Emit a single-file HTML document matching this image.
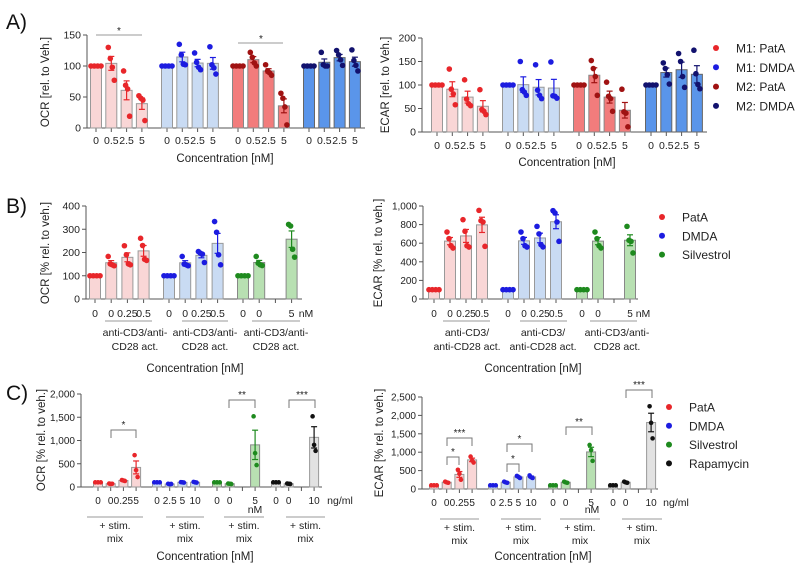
<!DOCTYPE html>
<html><head><meta charset="utf-8">
<style>
html,body{margin:0;padding:0;background:#fff;}
svg{display:block;font-family:"Liberation Sans",Arial,sans-serif;}
</style></head>
<body>
<svg id="fig" width="795" height="567" viewBox="0 0 795 567" xmlns="http://www.w3.org/2000/svg">
<text x="6" y="29" font-size="21" fill="#111">A)</text>
<text x="6" y="213" font-size="21" fill="#111">B)</text>
<text x="6" y="400" font-size="21" fill="#111">C)</text>
</svg>
<script>
// ---------- DATA ----------
// Panel A OCR
const aConcLabels = ["0","0.5","2.5","5"];
const aOcrTicks = [0,50,100,150];
const aOcrM1PatA = [[100,100,100,100],[130,112,98,77],[92,69,63,19],[52,48,45,12]];
const aOcrM1DMDA = [[100,100,100,100],[135,118,103,102],[121,106,98,94],[131,102,97,87]];
const aOcrM2PatA = [[100,100,100,100],[122,114,105,100],[102,92,89,85],[56,48,34,5]];
const aOcrM2DMDA = [[100,100,100,100],[122,102,100,100],[125,118,110,101],[126,109,101,92]];
// Panel A ECAR
const aEcarTicks = [0,50,100,150,200];
const aEcarM1PatA = [[100,100,100,100],[134,91,81,58],[111,70,60,56],[90,48,44,37]];
const aEcarM1DMDA = [[100,100,100,100],[150,90,85,78],[143,89,78,71],[149,77,76,72]];
const aEcarM2PatA = [[100,100,100,100],[152,135,118,78],[106,76,71,44],[91,43,40,11]];
const aEcarM2DMDA = [[100,100,100,100],[147,135,122,102],[167,150,118,95],[174,124,101,92]];
// Panel B OCR
const bOcrTicks = [0,100,200,300,400];
const bOcrPatA = [[100,100,100,100],[183,151,147,143],[229,190,151,147],[261,230,171,166]];
const bOcrDMDA = [[100,100,100,100],[183,150,147,143],[204,197,193,157],[333,287,190,147]];
const bOcrSilv = [[100,100,100,100],[183,154,147,144],null,[321,314,214,180]];
// Panel B ECAR
const bEcarTicks = [0,200,400,600,800,1000];
const bEcarPatA = [[100,100,100,100],[720,649,573,548],[853,728,573,559],[953,842,828,566]];
const bEcarDMDA = [[100,100,100,100],[720,649,573,559],[781,700,584,560],[950,925,828,620]];
const bEcarSilv = [[100,100,100,100],[720,649,573,548],null,[781,631,620,495]];
const bPatLabels = ["0","0","0.25","0.5"];
const bSilLabels = ["0","0","","5"];
// Panel C OCR
const cOcrTicks = [0,500,1000,1500,2000];
const cOcrPatA = [[100,100,100],[75,65,70],[150,140,130],[685,364,214]];
const cOcrDMDA = [[100,100,100],[70,60,65],[105,100,95],[110,100,95]];
const cOcrSilv = [[100,100,100],[75,70,65],null,[1520,728,471]];
const cOcrRapa = [[100,100,100],[75,70,65],null,[1520,905,778]];
// Panel C ECAR
const cEcarTicks = [0,500,1000,1500,2000,2500];
const cEcarPatA = [[100,100,100],[200,180,170],[522,414,252],[881,773,719]];
const cEcarDMDA = [[100,100,100],[200,180,170],[355,330,300],[370,320,300]];
const cEcarSilv = [[100,100,100],[200,180,170],null,[1196,1061,764]];
const cEcarRapa = [[100,100,100],[200,180,170],null,[2248,1798,1376]];
const cPatLabels = ["0","0","0.25","5"];
const cDmdaLabels = ["0","2.5","5","10"];
const cSilLabels = ["0","0","","5"];
const cRapLabels = ["0","0","","10"];

// ---------- DRAWING ----------
const NS="http://www.w3.org/2000/svg";
const svg=document.getElementById('fig');
function el(tag,attrs,parent){const e=document.createElementNS(NS,tag);for(const k in attrs)e.setAttribute(k,attrs[k]);(parent||svg).appendChild(e);return e;}
function txt(x,y,s,size,anchor,parent,extra){const t=el('text',Object.assign({x:x,y:y,'font-size':size,'text-anchor':anchor||'middle',fill:'#222'},extra||{}),parent);t.textContent=s;return t;}
function fmt(v){return v.toLocaleString('en-US');}
const mean=a=>a.reduce((s,v)=>s+v,0)/a.length;
function sem(a){const m=mean(a);const sd=Math.sqrt(a.reduce((s,v)=>s+(v-m)*(v-m),0)/(a.length-1));return sd/Math.sqrt(a.length);}

function panel(P){
  const g=el('g',{});
  
  
  const maxV=P.ticks[P.ticks.length-1];
  const yS=v=>P.y0-(v/maxV)*(P.y0-P.yTop);
  const ax=el('line',{x1:P.ax,y1:P.yTop,x2:P.ax,y2:P.y0,stroke:'#555','stroke-width':1},g);
  
  
  P.ticks.forEach(t=>{
    el('line',{x1:P.ax-4,y1:yS(t),x2:P.ax,y2:yS(t),stroke:'#555'},g);
    const tl=txt(P.ax-6,yS(t)+3.5,fmt(t),P.tickFont||10.5,'end',g);
    
    
  });
  const xa=el('line',{x1:P.ax,y1:P.y0,x2:P.axEnd,y2:P.y0,stroke:'#555'},g);
  
  
  const yl=txt(0,0,P.ylabel,11.5,'middle',g,{transform:`translate(${P.ylX},${P.ylY}) rotate(-90)`});
  
  
  const xl=txt(P.xlX,P.xlY,P.xlabel,11.5,'middle',g);
  
  
  P.groups.forEach((G,gi)=>{
    G.data.forEach((pts,si)=>{
      const cx=G.x+si*P.step;
      el('line',{x1:cx,y1:P.y0,x2:cx,y2:P.y0+4,stroke:'#555'},g);
      const lab=G.labels[si];
      if(lab!==''){const tl=txt(cx,P.tlY,lab,P.tickFont||10.5,'middle',g);
        
        }
      if(!pts)return;
      const m=mean(pts),e=sem(pts);
      const b=el('rect',{x:cx-P.bw/2,y:yS(m),width:P.bw,height:P.y0-yS(m),fill:G.fill,stroke:G.edge,'stroke-width':1},g);
      
      
      if(e>0.5){
        el('line',{x1:cx,y1:yS(m+e),x2:cx,y2:yS(m-e),stroke:G.color,'stroke-width':1.2},g);
        el('line',{x1:cx-3,y1:yS(m+e),x2:cx+3,y2:yS(m+e),stroke:G.color,'stroke-width':1.2},g);
        el('line',{x1:cx-3,y1:yS(m-e),x2:cx+3,y2:yS(m-e),stroke:G.color,'stroke-width':1.2},g);
      }
      const offs=pts.length===4?[-3,-1,1,3]:[-1.5,0,1.5];
      pts.forEach((v,k)=>{
        const same=pts.every(p=>p===pts[0]);
        const dx=same?(k-(pts.length-1)/2)*P.r*1.2:offs[k];
        const c=el('circle',{cx:cx+dx,cy:yS(v),r:P.r,fill:G.color},g);
        
        
      });
    });
  });
  (P.extras||[]).forEach(f=>f(g,yS));
  return g;
}
function hline(g,x1,x2,y){el('line',{x1:x1,y1:y,x2:x2,y2:y,stroke:'#999','stroke-width':1},g);}
function bracket(g,x1,x2,y,star,drop){
  el('polyline',{points:`${x1},${y+drop} ${x1},${y} ${x2},${y} ${x2},${y+drop}`,fill:'none',stroke:'#777','stroke-width':1},g);
  const s=txt((x1+x2)/2,y-2,star,10,'middle',g);
  
  
}
function legend(x,y,dy,items,font){
  const g=el('g',{});
  
  
  items.forEach((it,i)=>{
    const c=el('circle',{cx:x,cy:y+i*dy,r:3,fill:it[1]},g);
    
    
    const t=txt(x+20,y+i*dy+4.5,it[0],font,'start',g);
    
    
  });
}
const RED='#e8262a',BLUE='#1c1ce0',DRED='#a01212',NAVY='#12126e',GREEN='#1e8a1e',BLACK='#111';
const fPink='#f9d6d6',fBlue='#c9dbf3',fRed='#f27c7c',fDBlue='#5a95ea',fGreen='#b8e0b2',fGray='#e2e2e2';

// A OCR
panel({name:'panel-a-ocr-chart',ax:87,y0:128,yTop:35,axEnd:365,ticks:aOcrTicks,step:15.3,bw:11,r:2.8,tlY:144,
 ylabel:'OCR [rel. to Veh.]',ylX:49,ylY:82,xlabel:'Concentration [nM]',xlX:225,xlY:162,
 groups:[{key:'m1-pata',x:96,data:aOcrM1PatA,labels:aConcLabels,color:RED,fill:fPink,edge:'#999'},
  {key:'m1-dmda',x:167,data:aOcrM1DMDA,labels:aConcLabels,color:BLUE,fill:fBlue,edge:'#999'},
  {key:'m2-pata',x:238,data:aOcrM2PatA,labels:aConcLabels,color:DRED,fill:fRed,edge:'#888'},
  {key:'m2-dmda',x:309,data:aOcrM2DMDA,labels:aConcLabels,color:NAVY,fill:fDBlue,edge:'#666'}],
 extras:[(g)=>{hline(g,96,142,35);txt(119,34,'*',10,'middle',g);hline(g,238,283,43);txt(261,42,'*',10,'middle',g);}]});
// A ECAR
panel({name:'panel-a-ecar-chart',ax:422,y0:132,yTop:38,axEnd:707,ticks:aEcarTicks,step:15.3,bw:11,r:2.8,tlY:149,
 ylabel:'ECAR [rel. to Veh.]',ylX:389,ylY:85,xlabel:'Concentration [nM]',xlX:567,xlY:166,
 groups:[{key:'m1-pata',x:437,data:aEcarM1PatA,labels:aConcLabels,color:RED,fill:fPink,edge:'#999'},
  {key:'m1-dmda',x:508,data:aEcarM1DMDA,labels:aConcLabels,color:BLUE,fill:fBlue,edge:'#999'},
  {key:'m2-pata',x:579,data:aEcarM2PatA,labels:aConcLabels,color:DRED,fill:fRed,edge:'#888'},
  {key:'m2-dmda',x:651,data:aEcarM2DMDA,labels:aConcLabels,color:NAVY,fill:fDBlue,edge:'#666'}]});
legend(716,48,19.3,[['M1: PatA',RED],['M1: DMDA',BLUE],['M2: PatA',DRED],['M2: DMDA',NAVY]],12);

// B OCR
panel({name:'panel-b-ocr-chart',ax:86,y0:299,yTop:206,axEnd:302,ticks:bOcrTicks,step:16.2,bw:11,r:2.8,tlY:317,
 ylabel:'OCR [% rel. to veh.]',ylX:49,ylY:253,xlabel:'Concentration [nM]',xlX:195,xlY:372,
 groups:[{key:'pata',x:95,data:bOcrPatA,labels:bPatLabels,color:RED,fill:fPink,edge:'#999'},
  {key:'dmda',x:169,data:bOcrDMDA,labels:bPatLabels,color:BLUE,fill:fBlue,edge:'#999'},
  {key:'silvestrol',x:243,data:bOcrSilv,labels:bSilLabels,color:GREEN,fill:fGreen,edge:'#888'}],
 extras:[(g)=>{txt(306,317,'nM',10.5,'middle',g);
  [[105,152,135],[182,228,205],[252,300,276]].forEach(a=>{hline(g,a[0],a[1],321);txt(a[2],336,'anti-CD3/anti-',10.5,'middle',g);txt(a[2],350,'CD28 act.',10.5,'middle',g);});}]});
// B ECAR
panel({name:'panel-b-ecar-chart',ax:423,y0:299,yTop:206,axEnd:638,ticks:bEcarTicks,step:16,bw:11,r:2.8,tlY:317,tickFont:10,
 ylabel:'ECAR [% rel. to veh.]',ylX:382,ylY:253,xlabel:'Concentration [nM]',xlX:533,xlY:372,
 groups:[{key:'pata',x:434,data:bEcarPatA,labels:bPatLabels,color:RED,fill:fPink,edge:'#999'},
  {key:'dmda',x:508,data:bEcarDMDA,labels:bPatLabels,color:BLUE,fill:fBlue,edge:'#999'},
  {key:'silvestrol',x:582,data:bEcarSilv,labels:bSilLabels,color:GREEN,fill:fGreen,edge:'#888'}],
 extras:[(g)=>{txt(643,317,'nM',10.5,'middle',g);
  hline(g,443,490,321);txt(467,336,'anti-CD3/',10.5,'middle',g);txt(467,350,'anti-CD28 act.',10.5,'middle',g);
  hline(g,520,567,321);txt(543,336,'anti-CD3/',10.5,'middle',g);txt(543,350,'anti-CD28 act.',10.5,'middle',g);
  hline(g,590,637,321);txt(617,336,'anti-CD3/anti-',10.5,'middle',g);txt(617,350,'CD28 act.',10.5,'middle',g);}]});
legend(662,217,18.8,[['PatA',RED],['DMDA',BLUE],['Silvestrol',GREEN]],12);

// C OCR
panel({name:'panel-c-ocr-chart',ax:81,y0:487,yTop:394,axEnd:322,ticks:cOcrTicks,step:12.7,bw:9,r:2.3,tlY:504,tickFont:10,
 ylabel:'OCR [% rel. to veh.]',ylX:45,ylY:440,xlabel:'Concentration [nM]',xlX:205,xlY:560,
 groups:[{key:'pata',x:98,data:cOcrPatA,labels:cPatLabels,color:RED,fill:fPink,edge:'#999'},
  {key:'dmda',x:157,data:cOcrDMDA,labels:cDmdaLabels,color:BLUE,fill:fBlue,edge:'#999'},
  {key:'silvestrol',x:217,data:cOcrSilv,labels:cSilLabels,color:GREEN,fill:fGreen,edge:'#888'},
  {key:'rapamycin',x:276,data:cOcrRapa,labels:cRapLabels,color:BLACK,fill:fGray,edge:'#999'}],
 extras:[(g)=>{txt(255,513,'nM',10.5,'middle',g);txt(340,504,'ng/ml',10.5,'middle',g);
  bracket(g,111,136,430,'*',8);bracket(g,229,255,400,'**',8);bracket(g,289,315,400,'***',8);
  [[87,143],[166,204],[224,264],[286,325]].forEach(a=>{hline(g,a[0],a[1],517);txt((a[0]+a[1])/2,529,'+ stim.',10.5,'middle',g);txt((a[0]+a[1])/2,542,'mix',10.5,'middle',g);});}]});
// C ECAR
panel({name:'panel-c-ecar-chart',ax:422,y0:489,yTop:397,axEnd:658,ticks:cEcarTicks,step:12.7,bw:9,r:2.3,tlY:506,tickFont:10,
 ylabel:'ECAR [% rel. to veh.]',ylX:383,ylY:443,xlabel:'Concentration [nM]',xlX:543,xlY:560,
 groups:[{key:'pata',x:434,data:cEcarPatA,labels:cPatLabels,color:RED,fill:fPink,edge:'#999'},
  {key:'dmda',x:493,data:cEcarDMDA,labels:cDmdaLabels,color:BLUE,fill:fBlue,edge:'#999'},
  {key:'silvestrol',x:553,data:cEcarSilv,labels:cSilLabels,color:GREEN,fill:fGreen,edge:'#888'},
  {key:'rapamycin',x:613,data:cEcarRapa,labels:cRapLabels,color:BLACK,fill:fGray,edge:'#999'}],
 extras:[(g)=>{txt(592,513,'nM',10.5,'middle',g);txt(676,506,'ng/ml',10.5,'middle',g);
  bracket(g,447,472,438,'***',8);bracket(g,447,459,457,'*',8);bracket(g,507,532,444,'*',8);bracket(g,507,519,464,'*',8);
  bracket(g,566,592,427,'**',8);bracket(g,626,652,390,'***',8);
  [[440,479],[501,541],[560,600],[622,662]].forEach(a=>{hline(g,a[0],a[1],519);txt((a[0]+a[1])/2,531,'+ stim.',10.5,'middle',g);txt((a[0]+a[1])/2,544,'mix',10.5,'middle',g);});}]});
legend(669,407,18.8,[['PatA',RED],['DMDA',BLUE],['Silvestrol',GREEN],['Rapamycin',BLACK]],12);
</script>
</body></html>
